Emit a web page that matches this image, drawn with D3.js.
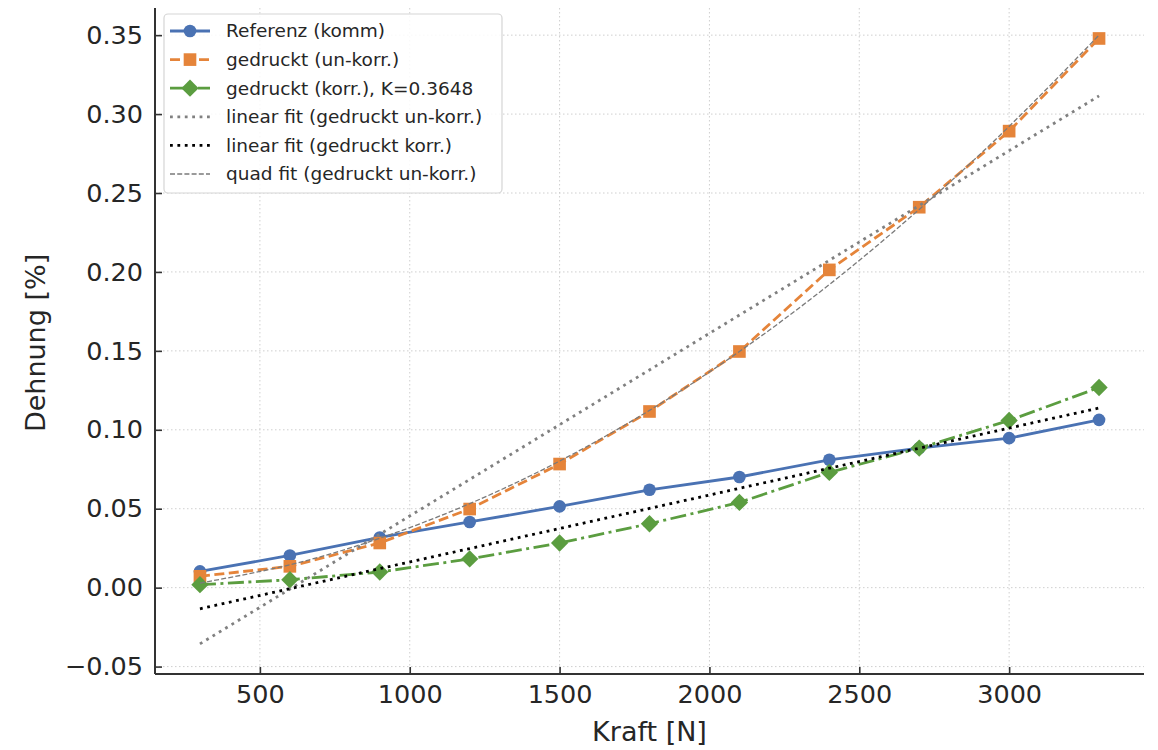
<!DOCTYPE html>
<html lang="de">
<meta charset="utf-8"/>
<head>
<style>
  body { margin: 0; background: #fff; }
  text { font-family: "DejaVu Sans", sans-serif; fill: #262626; }
</style>
</head>
<body>
<svg id="chart" width="1158" height="750"></svg>

<script src="https://d3js.org/d3.v7.min.js"></script>
<script>
// Werte
let kraft      = [300, 600, 900, 1200, 1500, 1800, 2100, 2400, 2700, 3000, 3300]
let referenz   = [0.0103, 0.0204, 0.0318, 0.0416, 0.0515, 0.0620, 0.0701, 0.0810, 0.0884, 0.0947, 0.1063]
let ungekorr   = [0.0072, 0.0135, 0.0283, 0.0498, 0.0783, 0.1116, 0.1496, 0.2013, 0.2410, 0.2892, 0.3479]
let gekorr     = [0.0019, 0.0050, 0.0099, 0.0182, 0.0283, 0.0405, 0.0540, 0.0730, 0.0884, 0.1059, 0.1268]
let quadFit    = [0.0029, 0.0145, 0.0313, 0.0532, 0.0802, 0.1123, 0.1496, 0.1920, 0.2396, 0.2922, 0.3500]
let linFitX    = [300, 3300]
let linUngekorr = [-0.0356, 0.3115]
let linGekorr   = [-0.0134, 0.1138]
let xTicks = [500, 1000, 1500, 2000, 2500, 3000]
let yTicks = [-0.05, 0.00, 0.05, 0.10, 0.15, 0.20, 0.25, 0.30, 0.35]

let width = 1158, height = 750
let margin = {top: 8, right: 14, bottom: 76, left: 155}
let svg = d3.select("svg")

let x = d3.scaleLinear().domain([150, 3450]).range([margin.left, width - margin.right])
let y = d3.scaleLinear().domain([-0.0547, 0.3672]).range([height - margin.bottom, margin.top])

// grid
let grid = svg.append("g").attr("stroke", "#c9c9c9").attr("stroke-width", 0.9).attr("stroke-dasharray", "1.5,2.5")
grid.selectAll(".gx").data(xTicks).enter().append("line")
    .attr("x1", d => x(d)).attr("x2", d => x(d))
    .attr("y1", margin.top).attr("y2", height - margin.bottom)
grid.selectAll(".gy").data(yTicks).enter().append("line")
    .attr("y1", d => y(d)).attr("y2", d => y(d))
    .attr("x1", margin.left).attr("x2", width - margin.right)

// axes
let xAxis = svg.append("g")
    .attr("transform", `translate(0,${height - margin.bottom})`)
    .call(d3.axisBottom(x).tickValues(xTicks).tickSizeInner(-7).tickSizeOuter(0).tickPadding(11).tickFormat(d3.format("d")))
let yAxis = svg.append("g")
    .attr("transform", `translate(${margin.left},0)`)
    .call(d3.axisLeft(y).tickValues(yTicks).tickSizeInner(-7).tickSizeOuter(0).tickPadding(12).tickFormat(d => d3.format(".2f")(d).replace("-", "\u2212")))

for (let ax of [xAxis, yAxis]) {
  ax.select(".domain").attr("stroke", "#333").attr("stroke-width", 2)
  ax.selectAll(".tick line").attr("stroke", "#333").attr("stroke-width", 1.6)
  ax.selectAll(".tick text").attr("font-size", 25.5).attr("fill", "#262626")
    .attr("font-family", "DejaVu Sans")
}
yAxis.select(".domain").attr("d", `M0,${margin.top}V${height - margin.bottom}`)
xAxis.select(".domain").attr("d", `M${margin.left},0H${width - margin.right}`)

svg.append("text").attr("x", x(1800)).attr("y", 741)
   .attr("text-anchor", "middle").attr("font-size", 27).text("Kraft [N]")
svg.append("text").attr("transform", `translate(45,${y(0.155)}) rotate(-90)`)
   .attr("text-anchor", "middle").attr("font-size", 27).text("Dehnung [%]")

// series
let series = [
  {name: "Referenz (komm)", xs: kraft, ys: referenz, color: "#4a72b3", w: 2.8, dash: null, marker: "circle"},
  {name: "gedruckt (un-korr.)", xs: kraft, ys: ungekorr, color: "#e5843a", w: 2.8, dash: "10,4.5", marker: "square"},
  {name: "gedruckt (korr.), K=0.3648", xs: kraft, ys: gekorr, color: "#5b9d40", w: 2.8, dash: "16,4.5,3,4.5", marker: "diamond"},
  {name: "linear fit (gedruckt un-korr.)", xs: linFitX, ys: linUngekorr, color: "#808080", w: 2.8, dash: "2.8,4.6", marker: null},
  {name: "linear fit (gedruckt korr.)", xs: linFitX, ys: linGekorr, color: "#000000", w: 2.8, dash: "2.8,4.6", marker: null},
  {name: "quad fit (gedruckt un-korr.)", xs: kraft, ys: quadFit, color: "#7a7a7a", w: 1.3, dash: "5,2.2", marker: null, curve: true}
]

let symSize = {circle: 125, square: 160, diamond: 150}

function markerPath(m) {
  let t = m == "circle" ? d3.symbolCircle : d3.symbolSquare
  return d3.symbol().type(t).size(symSize[m])()
}

series.forEach(s => {
  let pts = s.xs.map((v, i) => [v, s.ys[i]])
  let line = d3.line().x(d => x(d[0])).y(d => y(d[1]))
  if (s.curve) line.curve(d3.curveNatural)
  svg.append("path").datum(pts)
     .attr("d", line).attr("fill", "none")
     .attr("stroke", s.color).attr("stroke-width", s.w)
     .attr("stroke-dasharray", s.dash)
  if (s.marker) {
    svg.append("g").selectAll("path").data(pts).enter().append("path")
       .attr("d", markerPath(s.marker))
       .attr("transform", d => `translate(${x(d[0])},${y(d[1])})` + (s.marker == "diamond" ? " rotate(45)" : ""))
       .attr("fill", s.color)
  }
})

// legend
let lg = svg.append("g")
lg.append("rect").attr("x", 164).attr("y", 14).attr("width", 338).attr("height", 179)
  .attr("rx", 4).attr("fill", "#fff").attr("fill-opacity", 0.85)
  .attr("stroke", "#d5d5d5").attr("stroke-width", 1.2)
series.forEach((s, i) => {
  let cy = 31 + i * 28.6
  lg.append("line").attr("x1", 170).attr("x2", 210).attr("y1", cy).attr("y2", cy)
    .attr("stroke", s.color).attr("stroke-width", s.w).attr("stroke-dasharray", s.dash)
  if (s.marker) lg.append("path").attr("d", markerPath(s.marker))
    .attr("transform", `translate(190,${cy})` + (s.marker == "diamond" ? " rotate(45)" : ""))
    .attr("fill", s.color)
  lg.append("text").attr("x", 226).attr("y", cy).attr("dy", "0.35em")
    .attr("font-size", 18.5).text(s.name)
})
</script>
</body>
</html>
